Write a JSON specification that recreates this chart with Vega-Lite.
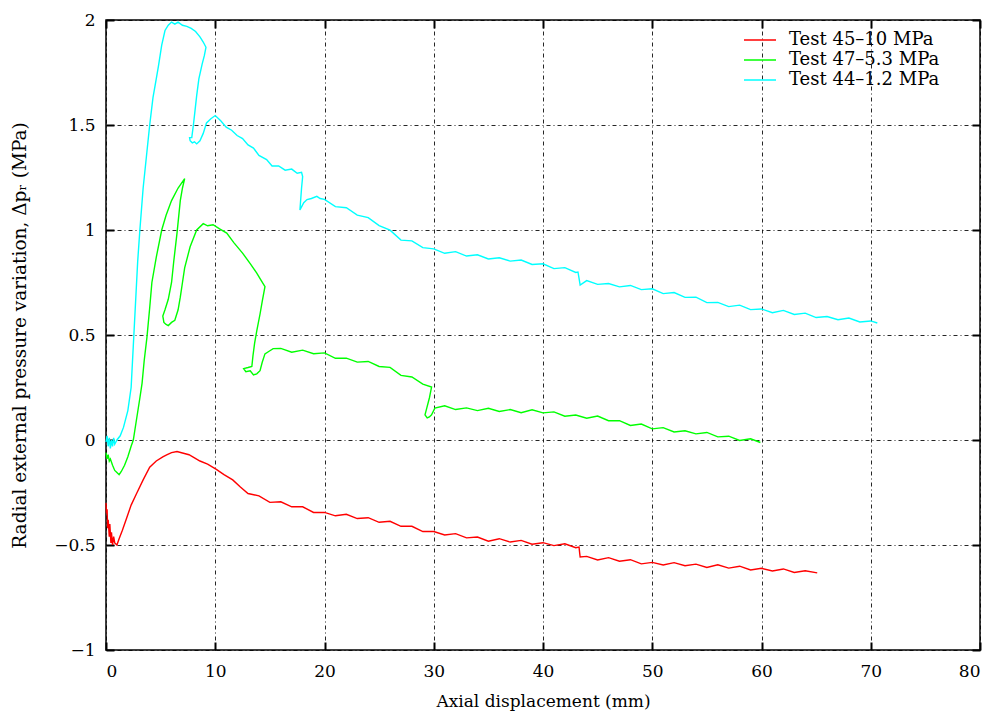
{
  "$schema": "https://vega.github.io/schema/vega-lite/v6.json",
  "width": 874,
  "height": 630,
  "autosize": {"type": "none"},
  "padding": {"left": 106, "top": 20, "right": 18, "bottom": 65},
  "background": "white",
  "config": {
    "view": {"stroke": "black", "strokeWidth": 1.5},
    "font": "DejaVu Serif",
    "axis": {
      "labelFont": "DejaVu Serif", "labelFontSize": 17, "labelColor": "black",
      "titleFont": "DejaVu Serif", "titleFontSize": 17, "titleFontWeight": "normal", "titleColor": "black",
      "domain": false, "tickColor": "black", "tickWidth": 2, "tickSize": -8,
      "gridColor": "black", "gridDash": [4, 3, 1, 3], "gridWidth": 1, "gridOpacity": 0.85
    }
  },
  "data": {"values": [
    {"s":"Test 44–1.2 MPa","i":1,"x":0,"y":-0.01},{"s":"Test 44–1.2 MPa","i":2,"x":0.1,"y":0.02},{"s":"Test 44–1.2 MPa","i":3,"x":0.2,"y":-0.03},{"s":"Test 44–1.2 MPa","i":4,"x":0.3,"y":0.01},{"s":"Test 44–1.2 MPa","i":5,"x":0.4,"y":-0.04},{"s":"Test 44–1.2 MPa","i":6,"x":0.5,"y":0.0},{"s":"Test 44–1.2 MPa","i":7,"x":0.6,"y":-0.03},{"s":"Test 44–1.2 MPa","i":8,"x":0.7,"y":0.01},{"s":"Test 44–1.2 MPa","i":9,"x":0.8,"y":-0.02},{"s":"Test 44–1.2 MPa","i":10,"x":1.0,"y":0.0},
    {"s":"Test 44–1.2 MPa","i":11,"x":1.3,"y":0.02},{"s":"Test 44–1.2 MPa","i":12,"x":1.6,"y":0.06},{"s":"Test 44–1.2 MPa","i":13,"x":2.0,"y":0.14},{"s":"Test 44–1.2 MPa","i":14,"x":2.3,"y":0.25},{"s":"Test 44–1.2 MPa","i":15,"x":2.5,"y":0.45},{"s":"Test 44–1.2 MPa","i":16,"x":2.7,"y":0.65},{"s":"Test 44–1.2 MPa","i":17,"x":2.9,"y":0.85},{"s":"Test 44–1.2 MPa","i":18,"x":3.1,"y":1.0},{"s":"Test 44–1.2 MPa","i":19,"x":3.4,"y":1.2},{"s":"Test 44–1.2 MPa","i":20,"x":3.7,"y":1.35},
    {"s":"Test 44–1.2 MPa","i":21,"x":4.0,"y":1.5},{"s":"Test 44–1.2 MPa","i":22,"x":4.3,"y":1.63},{"s":"Test 44–1.2 MPa","i":23,"x":4.6,"y":1.72},{"s":"Test 44–1.2 MPa","i":24,"x":4.8,"y":1.78},{"s":"Test 44–1.2 MPa","i":25,"x":5.1,"y":1.88},{"s":"Test 44–1.2 MPa","i":26,"x":5.4,"y":1.95},{"s":"Test 44–1.2 MPa","i":27,"x":5.7,"y":1.975},{"s":"Test 44–1.2 MPa","i":28,"x":6.0,"y":1.99},{"s":"Test 44–1.2 MPa","i":29,"x":6.3,"y":1.98},{"s":"Test 44–1.2 MPa","i":30,"x":6.6,"y":1.99},
    {"s":"Test 44–1.2 MPa","i":31,"x":7.0,"y":1.975},{"s":"Test 44–1.2 MPa","i":32,"x":7.4,"y":1.97},{"s":"Test 44–1.2 MPa","i":33,"x":7.8,"y":1.96},{"s":"Test 44–1.2 MPa","i":34,"x":8.2,"y":1.945},{"s":"Test 44–1.2 MPa","i":35,"x":8.6,"y":1.92},{"s":"Test 44–1.2 MPa","i":36,"x":8.9,"y":1.895},{"s":"Test 44–1.2 MPa","i":37,"x":9.15,"y":1.87},{"s":"Test 44–1.2 MPa","i":38,"x":9.0,"y":1.83},{"s":"Test 44–1.2 MPa","i":39,"x":8.8,"y":1.79},{"s":"Test 44–1.2 MPa","i":40,"x":8.5,"y":1.72},
    {"s":"Test 44–1.2 MPa","i":41,"x":8.3,"y":1.64},{"s":"Test 44–1.2 MPa","i":42,"x":8.15,"y":1.57},{"s":"Test 44–1.2 MPa","i":43,"x":8.0,"y":1.5},{"s":"Test 44–1.2 MPa","i":44,"x":7.85,"y":1.44},{"s":"Test 44–1.2 MPa","i":45,"x":7.65,"y":1.44},{"s":"Test 44–1.2 MPa","i":46,"x":7.7,"y":1.425},{"s":"Test 44–1.2 MPa","i":47,"x":7.9,"y":1.415},{"s":"Test 44–1.2 MPa","i":48,"x":8.1,"y":1.42},{"s":"Test 44–1.2 MPa","i":49,"x":8.3,"y":1.41},{"s":"Test 44–1.2 MPa","i":50,"x":8.6,"y":1.425},
    {"s":"Test 44–1.2 MPa","i":51,"x":8.9,"y":1.46},{"s":"Test 44–1.2 MPa","i":52,"x":9.2,"y":1.51},{"s":"Test 44–1.2 MPa","i":53,"x":9.6,"y":1.53},{"s":"Test 44–1.2 MPa","i":54,"x":10.0,"y":1.545},{"s":"Test 44–1.2 MPa","i":55,"x":10.5,"y":1.52},{"s":"Test 44–1.2 MPa","i":56,"x":11.0,"y":1.49},{"s":"Test 44–1.2 MPa","i":57,"x":11.5,"y":1.475},{"s":"Test 44–1.2 MPa","i":58,"x":12.0,"y":1.45},{"s":"Test 44–1.2 MPa","i":59,"x":12.5,"y":1.435},{"s":"Test 44–1.2 MPa","i":60,"x":13.0,"y":1.405},
    {"s":"Test 44–1.2 MPa","i":61,"x":13.5,"y":1.39},{"s":"Test 44–1.2 MPa","i":62,"x":14.0,"y":1.355},{"s":"Test 44–1.2 MPa","i":63,"x":14.7,"y":1.335},{"s":"Test 44–1.2 MPa","i":64,"x":15.2,"y":1.305},{"s":"Test 44–1.2 MPa","i":65,"x":15.8,"y":1.305},{"s":"Test 44–1.2 MPa","i":66,"x":16.4,"y":1.285},{"s":"Test 44–1.2 MPa","i":67,"x":17.0,"y":1.29},{"s":"Test 44–1.2 MPa","i":68,"x":17.5,"y":1.27},{"s":"Test 44–1.2 MPa","i":69,"x":17.9,"y":1.275},{"s":"Test 44–1.2 MPa","i":70,"x":18.0,"y":1.255},
    {"s":"Test 44–1.2 MPa","i":71,"x":17.9,"y":1.2},{"s":"Test 44–1.2 MPa","i":72,"x":17.8,"y":1.13},{"s":"Test 44–1.2 MPa","i":73,"x":17.75,"y":1.095},{"s":"Test 44–1.2 MPa","i":74,"x":17.9,"y":1.11},{"s":"Test 44–1.2 MPa","i":75,"x":18.1,"y":1.13},{"s":"Test 44–1.2 MPa","i":76,"x":18.4,"y":1.145},{"s":"Test 44–1.2 MPa","i":77,"x":18.8,"y":1.15},{"s":"Test 44–1.2 MPa","i":78,"x":19.3,"y":1.16},{"s":"Test 44–1.2 MPa","i":79,"x":19.6,"y":1.15},{"s":"Test 44–1.2 MPa","i":80,"x":20,"y":1.146},
    {"s":"Test 44–1.2 MPa","i":81,"x":21,"y":1.111},{"s":"Test 44–1.2 MPa","i":82,"x":22,"y":1.106},{"s":"Test 44–1.2 MPa","i":83,"x":23,"y":1.071},{"s":"Test 44–1.2 MPa","i":84,"x":24,"y":1.059},{"s":"Test 44–1.2 MPa","i":85,"x":25,"y":1.021},{"s":"Test 44–1.2 MPa","i":86,"x":26,"y":0.999},{"s":"Test 44–1.2 MPa","i":87,"x":27,"y":0.952},{"s":"Test 44–1.2 MPa","i":88,"x":28,"y":0.948},{"s":"Test 44–1.2 MPa","i":89,"x":29,"y":0.916},{"s":"Test 44–1.2 MPa","i":90,"x":30,"y":0.91},
    {"s":"Test 44–1.2 MPa","i":91,"x":31,"y":0.889},{"s":"Test 44–1.2 MPa","i":92,"x":32,"y":0.897},{"s":"Test 44–1.2 MPa","i":93,"x":33,"y":0.876},{"s":"Test 44–1.2 MPa","i":94,"x":34,"y":0.882},{"s":"Test 44–1.2 MPa","i":95,"x":35,"y":0.862},{"s":"Test 44–1.2 MPa","i":96,"x":36,"y":0.868},{"s":"Test 44–1.2 MPa","i":97,"x":37,"y":0.852},{"s":"Test 44–1.2 MPa","i":98,"x":38,"y":0.857},{"s":"Test 44–1.2 MPa","i":99,"x":39,"y":0.836},{"s":"Test 44–1.2 MPa","i":100,"x":40,"y":0.839},
    {"s":"Test 44–1.2 MPa","i":101,"x":41,"y":0.816},{"s":"Test 44–1.2 MPa","i":102,"x":42,"y":0.821},{"s":"Test 44–1.2 MPa","i":103,"x":43,"y":0.798},{"s":"Test 44–1.2 MPa","i":104,"x":43.2,"y":0.8},{"s":"Test 44–1.2 MPa","i":105,"x":43.3,"y":0.77},{"s":"Test 44–1.2 MPa","i":106,"x":43.4,"y":0.738},{"s":"Test 44–1.2 MPa","i":107,"x":44,"y":0.759},{"s":"Test 44–1.2 MPa","i":108,"x":45,"y":0.741},{"s":"Test 44–1.2 MPa","i":109,"x":46,"y":0.745},{"s":"Test 44–1.2 MPa","i":110,"x":47,"y":0.729},
    {"s":"Test 44–1.2 MPa","i":111,"x":48,"y":0.736},{"s":"Test 44–1.2 MPa","i":112,"x":49,"y":0.716},{"s":"Test 44–1.2 MPa","i":113,"x":50,"y":0.72},{"s":"Test 44–1.2 MPa","i":114,"x":51,"y":0.697},{"s":"Test 44–1.2 MPa","i":115,"x":52,"y":0.702},{"s":"Test 44–1.2 MPa","i":116,"x":53,"y":0.679},{"s":"Test 44–1.2 MPa","i":117,"x":54,"y":0.68},{"s":"Test 44–1.2 MPa","i":118,"x":55,"y":0.654},{"s":"Test 44–1.2 MPa","i":119,"x":56,"y":0.655},{"s":"Test 44–1.2 MPa","i":120,"x":57,"y":0.635},
    {"s":"Test 44–1.2 MPa","i":121,"x":58,"y":0.642},{"s":"Test 44–1.2 MPa","i":122,"x":59,"y":0.621},{"s":"Test 44–1.2 MPa","i":123,"x":60,"y":0.624},{"s":"Test 44–1.2 MPa","i":124,"x":61,"y":0.606},{"s":"Test 44–1.2 MPa","i":125,"x":62,"y":0.617},{"s":"Test 44–1.2 MPa","i":126,"x":63,"y":0.598},{"s":"Test 44–1.2 MPa","i":127,"x":64,"y":0.604},{"s":"Test 44–1.2 MPa","i":128,"x":65,"y":0.583},{"s":"Test 44–1.2 MPa","i":129,"x":66,"y":0.588},{"s":"Test 44–1.2 MPa","i":130,"x":67,"y":0.573},
    {"s":"Test 44–1.2 MPa","i":131,"x":68,"y":0.581},{"s":"Test 44–1.2 MPa","i":132,"x":69,"y":0.562},{"s":"Test 44–1.2 MPa","i":133,"x":70,"y":0.567},{"s":"Test 44–1.2 MPa","i":134,"x":70.6,"y":0.557},

    {"s":"Test 47–5.3 MPa","i":1,"x":0,"y":-0.06},{"s":"Test 47–5.3 MPa","i":2,"x":0.1,"y":-0.09},{"s":"Test 47–5.3 MPa","i":3,"x":0.2,"y":-0.07},{"s":"Test 47–5.3 MPa","i":4,"x":0.3,"y":-0.1},{"s":"Test 47–5.3 MPa","i":5,"x":0.4,"y":-0.09},{"s":"Test 47–5.3 MPa","i":6,"x":0.6,"y":-0.12},{"s":"Test 47–5.3 MPa","i":7,"x":0.8,"y":-0.145},{"s":"Test 47–5.3 MPa","i":8,"x":1.0,"y":-0.155},{"s":"Test 47–5.3 MPa","i":9,"x":1.2,"y":-0.165},{"s":"Test 47–5.3 MPa","i":10,"x":1.4,"y":-0.15},
    {"s":"Test 47–5.3 MPa","i":11,"x":1.7,"y":-0.12},{"s":"Test 47–5.3 MPa","i":12,"x":2.0,"y":-0.08},{"s":"Test 47–5.3 MPa","i":13,"x":2.3,"y":-0.03},{"s":"Test 47–5.3 MPa","i":14,"x":2.5,"y":0.0},{"s":"Test 47–5.3 MPa","i":15,"x":2.8,"y":0.1},{"s":"Test 47–5.3 MPa","i":16,"x":3.1,"y":0.2},{"s":"Test 47–5.3 MPa","i":17,"x":3.3,"y":0.27},{"s":"Test 47–5.3 MPa","i":18,"x":3.5,"y":0.38},{"s":"Test 47–5.3 MPa","i":19,"x":3.75,"y":0.49},{"s":"Test 47–5.3 MPa","i":20,"x":4.0,"y":0.63},
    {"s":"Test 47–5.3 MPa","i":21,"x":4.2,"y":0.75},{"s":"Test 47–5.3 MPa","i":22,"x":4.6,"y":0.87},{"s":"Test 47–5.3 MPa","i":23,"x":5.1,"y":1.0},{"s":"Test 47–5.3 MPa","i":24,"x":5.5,"y":1.07},{"s":"Test 47–5.3 MPa","i":25,"x":6.0,"y":1.14},{"s":"Test 47–5.3 MPa","i":26,"x":6.6,"y":1.2},{"s":"Test 47–5.3 MPa","i":27,"x":7.2,"y":1.245},{"s":"Test 47–5.3 MPa","i":28,"x":7.0,"y":1.2},{"s":"Test 47–5.3 MPa","i":29,"x":6.8,"y":1.14},{"s":"Test 47–5.3 MPa","i":30,"x":6.5,"y":0.985},
    {"s":"Test 47–5.3 MPa","i":31,"x":6.2,"y":0.85},{"s":"Test 47–5.3 MPa","i":32,"x":6.0,"y":0.75},{"s":"Test 47–5.3 MPa","i":33,"x":5.7,"y":0.67},{"s":"Test 47–5.3 MPa","i":34,"x":5.4,"y":0.62},{"s":"Test 47–5.3 MPa","i":35,"x":5.2,"y":0.59},{"s":"Test 47–5.3 MPa","i":36,"x":5.3,"y":0.56},{"s":"Test 47–5.3 MPa","i":37,"x":5.5,"y":0.55},{"s":"Test 47–5.3 MPa","i":38,"x":5.7,"y":0.545},{"s":"Test 47–5.3 MPa","i":39,"x":6.0,"y":0.56},{"s":"Test 47–5.3 MPa","i":40,"x":6.3,"y":0.57},
    {"s":"Test 47–5.3 MPa","i":41,"x":6.6,"y":0.62},{"s":"Test 47–5.3 MPa","i":42,"x":6.8,"y":0.68},{"s":"Test 47–5.3 MPa","i":43,"x":7.0,"y":0.75},{"s":"Test 47–5.3 MPa","i":44,"x":7.2,"y":0.82},{"s":"Test 47–5.3 MPa","i":45,"x":7.7,"y":0.92},{"s":"Test 47–5.3 MPa","i":46,"x":8.3,"y":1.0},{"s":"Test 47–5.3 MPa","i":47,"x":8.9,"y":1.03},{"s":"Test 47–5.3 MPa","i":48,"x":9.3,"y":1.02},{"s":"Test 47–5.3 MPa","i":49,"x":9.8,"y":1.025},{"s":"Test 47–5.3 MPa","i":50,"x":10.4,"y":1.005},
    {"s":"Test 47–5.3 MPa","i":51,"x":11.05,"y":0.985},{"s":"Test 47–5.3 MPa","i":52,"x":11.7,"y":0.94},{"s":"Test 47–5.3 MPa","i":53,"x":12.5,"y":0.89},{"s":"Test 47–5.3 MPa","i":54,"x":13.2,"y":0.84},{"s":"Test 47–5.3 MPa","i":55,"x":13.8,"y":0.795},{"s":"Test 47–5.3 MPa","i":56,"x":14.2,"y":0.76},{"s":"Test 47–5.3 MPa","i":57,"x":14.55,"y":0.73},{"s":"Test 47–5.3 MPa","i":58,"x":14.3,"y":0.66},{"s":"Test 47–5.3 MPa","i":59,"x":14.1,"y":0.6},{"s":"Test 47–5.3 MPa","i":60,"x":13.8,"y":0.52},
    {"s":"Test 47–5.3 MPa","i":61,"x":13.6,"y":0.46},{"s":"Test 47–5.3 MPa","i":62,"x":13.45,"y":0.4},{"s":"Test 47–5.3 MPa","i":63,"x":13.35,"y":0.35},{"s":"Test 47–5.3 MPa","i":64,"x":13.0,"y":0.345},{"s":"Test 47–5.3 MPa","i":65,"x":12.6,"y":0.34},{"s":"Test 47–5.3 MPa","i":66,"x":12.8,"y":0.325},{"s":"Test 47–5.3 MPa","i":67,"x":13.2,"y":0.33},{"s":"Test 47–5.3 MPa","i":68,"x":13.5,"y":0.31},{"s":"Test 47–5.3 MPa","i":69,"x":13.8,"y":0.315},{"s":"Test 47–5.3 MPa","i":70,"x":14.1,"y":0.33},
    {"s":"Test 47–5.3 MPa","i":71,"x":14.3,"y":0.37},{"s":"Test 47–5.3 MPa","i":72,"x":14.55,"y":0.41},{"s":"Test 47–5.3 MPa","i":73,"x":15.0,"y":0.425},{"s":"Test 47–5.3 MPa","i":74,"x":15.3,"y":0.435},{"s":"Test 47–5.3 MPa","i":75,"x":16,"y":0.436},{"s":"Test 47–5.3 MPa","i":76,"x":17,"y":0.418},{"s":"Test 47–5.3 MPa","i":77,"x":18,"y":0.428},{"s":"Test 47–5.3 MPa","i":78,"x":19,"y":0.411},{"s":"Test 47–5.3 MPa","i":79,"x":20,"y":0.415},{"s":"Test 47–5.3 MPa","i":80,"x":21,"y":0.389},
    {"s":"Test 47–5.3 MPa","i":81,"x":22,"y":0.39},{"s":"Test 47–5.3 MPa","i":82,"x":23,"y":0.371},{"s":"Test 47–5.3 MPa","i":83,"x":24,"y":0.374},{"s":"Test 47–5.3 MPa","i":84,"x":25,"y":0.35},{"s":"Test 47–5.3 MPa","i":85,"x":26,"y":0.346},{"s":"Test 47–5.3 MPa","i":86,"x":27,"y":0.308},{"s":"Test 47–5.3 MPa","i":87,"x":28,"y":0.3},{"s":"Test 47–5.3 MPa","i":88,"x":29,"y":0.266},{"s":"Test 47–5.3 MPa","i":89,"x":29.8,"y":0.252},{"s":"Test 47–5.3 MPa","i":90,"x":29.6,"y":0.2},
    {"s":"Test 47–5.3 MPa","i":91,"x":29.3,"y":0.14},{"s":"Test 47–5.3 MPa","i":92,"x":29.2,"y":0.12},{"s":"Test 47–5.3 MPa","i":93,"x":29.4,"y":0.105},{"s":"Test 47–5.3 MPa","i":94,"x":29.6,"y":0.11},{"s":"Test 47–5.3 MPa","i":95,"x":29.8,"y":0.12},{"s":"Test 47–5.3 MPa","i":96,"x":30.1,"y":0.152},{"s":"Test 47–5.3 MPa","i":97,"x":31,"y":0.163},{"s":"Test 47–5.3 MPa","i":98,"x":32,"y":0.145},{"s":"Test 47–5.3 MPa","i":99,"x":33,"y":0.153},{"s":"Test 47–5.3 MPa","i":100,"x":34,"y":0.14},
    {"s":"Test 47–5.3 MPa","i":101,"x":35,"y":0.151},{"s":"Test 47–5.3 MPa","i":102,"x":36,"y":0.136},{"s":"Test 47–5.3 MPa","i":103,"x":37,"y":0.145},{"s":"Test 47–5.3 MPa","i":104,"x":38,"y":0.13},{"s":"Test 47–5.3 MPa","i":105,"x":39,"y":0.144},{"s":"Test 47–5.3 MPa","i":106,"x":40,"y":0.129},{"s":"Test 47–5.3 MPa","i":107,"x":41,"y":0.134},{"s":"Test 47–5.3 MPa","i":108,"x":42,"y":0.113},{"s":"Test 47–5.3 MPa","i":109,"x":43,"y":0.119},{"s":"Test 47–5.3 MPa","i":110,"x":44,"y":0.104},
    {"s":"Test 47–5.3 MPa","i":111,"x":45,"y":0.114},{"s":"Test 47–5.3 MPa","i":112,"x":46,"y":0.092},{"s":"Test 47–5.3 MPa","i":113,"x":47,"y":0.092},{"s":"Test 47–5.3 MPa","i":114,"x":48,"y":0.069},{"s":"Test 47–5.3 MPa","i":115,"x":49,"y":0.076},{"s":"Test 47–5.3 MPa","i":116,"x":50,"y":0.053},{"s":"Test 47–5.3 MPa","i":117,"x":51,"y":0.059},{"s":"Test 47–5.3 MPa","i":118,"x":52,"y":0.038},{"s":"Test 47–5.3 MPa","i":119,"x":53,"y":0.044},{"s":"Test 47–5.3 MPa","i":120,"x":54,"y":0.029},
    {"s":"Test 47–5.3 MPa","i":121,"x":55,"y":0.036},{"s":"Test 47–5.3 MPa","i":122,"x":56,"y":0.015},{"s":"Test 47–5.3 MPa","i":123,"x":57,"y":0.018},{"s":"Test 47–5.3 MPa","i":124,"x":58,"y":-0.002},{"s":"Test 47–5.3 MPa","i":125,"x":59,"y":0.006},{"s":"Test 47–5.3 MPa","i":126,"x":59.9,"y":-0.012},

    {"s":"Test 45–10 MPa","i":1,"x":0,"y":-0.3},{"s":"Test 45–10 MPa","i":2,"x":0.05,"y":-0.35},{"s":"Test 45–10 MPa","i":3,"x":0.1,"y":-0.33},{"s":"Test 45–10 MPa","i":4,"x":0.15,"y":-0.42},{"s":"Test 45–10 MPa","i":5,"x":0.2,"y":-0.38},{"s":"Test 45–10 MPa","i":6,"x":0.3,"y":-0.46},{"s":"Test 45–10 MPa","i":7,"x":0.35,"y":-0.4},{"s":"Test 45–10 MPa","i":8,"x":0.45,"y":-0.49},{"s":"Test 45–10 MPa","i":9,"x":0.5,"y":-0.44},{"s":"Test 45–10 MPa","i":10,"x":0.6,"y":-0.5},
    {"s":"Test 45–10 MPa","i":11,"x":0.7,"y":-0.46},{"s":"Test 45–10 MPa","i":12,"x":0.8,"y":-0.49},{"s":"Test 45–10 MPa","i":13,"x":1.0,"y":-0.5},{"s":"Test 45–10 MPa","i":14,"x":1.2,"y":-0.47},{"s":"Test 45–10 MPa","i":15,"x":1.5,"y":-0.43},{"s":"Test 45–10 MPa","i":16,"x":1.9,"y":-0.37},{"s":"Test 45–10 MPa","i":17,"x":2.3,"y":-0.31},{"s":"Test 45–10 MPa","i":18,"x":2.8,"y":-0.255},{"s":"Test 45–10 MPa","i":19,"x":3.4,"y":-0.19},{"s":"Test 45–10 MPa","i":20,"x":4.0,"y":-0.13},
    {"s":"Test 45–10 MPa","i":21,"x":4.6,"y":-0.1},{"s":"Test 45–10 MPa","i":22,"x":5.2,"y":-0.08},{"s":"Test 45–10 MPa","i":23,"x":5.6,"y":-0.07},{"s":"Test 45–10 MPa","i":24,"x":6.0,"y":-0.06},{"s":"Test 45–10 MPa","i":25,"x":6.5,"y":-0.055},{"s":"Test 45–10 MPa","i":26,"x":7.0,"y":-0.062},{"s":"Test 45–10 MPa","i":27,"x":7.6,"y":-0.07},{"s":"Test 45–10 MPa","i":28,"x":8.1,"y":-0.085},{"s":"Test 45–10 MPa","i":29,"x":8.6,"y":-0.1},{"s":"Test 45–10 MPa","i":30,"x":9.3,"y":-0.115},
    {"s":"Test 45–10 MPa","i":31,"x":10.1,"y":-0.14},{"s":"Test 45–10 MPa","i":32,"x":10.8,"y":-0.165},{"s":"Test 45–10 MPa","i":33,"x":11.6,"y":-0.19},{"s":"Test 45–10 MPa","i":34,"x":12.3,"y":-0.224},{"s":"Test 45–10 MPa","i":35,"x":13.0,"y":-0.255},{"s":"Test 45–10 MPa","i":36,"x":14,"y":-0.266},{"s":"Test 45–10 MPa","i":37,"x":15,"y":-0.297},{"s":"Test 45–10 MPa","i":38,"x":16,"y":-0.294},{"s":"Test 45–10 MPa","i":39,"x":17,"y":-0.318},{"s":"Test 45–10 MPa","i":40,"x":18,"y":-0.318},
    {"s":"Test 45–10 MPa","i":41,"x":19,"y":-0.345},{"s":"Test 45–10 MPa","i":42,"x":20,"y":-0.345},{"s":"Test 45–10 MPa","i":43,"x":21,"y":-0.361},{"s":"Test 45–10 MPa","i":44,"x":22,"y":-0.354},{"s":"Test 45–10 MPa","i":45,"x":23,"y":-0.374},{"s":"Test 45–10 MPa","i":46,"x":24,"y":-0.37},{"s":"Test 45–10 MPa","i":47,"x":25,"y":-0.392},{"s":"Test 45–10 MPa","i":48,"x":26,"y":-0.387},{"s":"Test 45–10 MPa","i":49,"x":27,"y":-0.411},{"s":"Test 45–10 MPa","i":50,"x":28,"y":-0.411},
    {"s":"Test 45–10 MPa","i":51,"x":29,"y":-0.436},{"s":"Test 45–10 MPa","i":52,"x":30,"y":-0.436},{"s":"Test 45–10 MPa","i":53,"x":31,"y":-0.452},{"s":"Test 45–10 MPa","i":54,"x":32,"y":-0.446},{"s":"Test 45–10 MPa","i":55,"x":33,"y":-0.466},{"s":"Test 45–10 MPa","i":56,"x":34,"y":-0.462},{"s":"Test 45–10 MPa","i":57,"x":35,"y":-0.482},{"s":"Test 45–10 MPa","i":58,"x":36,"y":-0.47},{"s":"Test 45–10 MPa","i":59,"x":37,"y":-0.486},{"s":"Test 45–10 MPa","i":60,"x":38,"y":-0.478},
    {"s":"Test 45–10 MPa","i":61,"x":39,"y":-0.496},{"s":"Test 45–10 MPa","i":62,"x":40,"y":-0.489},{"s":"Test 45–10 MPa","i":63,"x":41,"y":-0.503},{"s":"Test 45–10 MPa","i":64,"x":42,"y":-0.494},{"s":"Test 45–10 MPa","i":65,"x":43,"y":-0.513},{"s":"Test 45–10 MPa","i":66,"x":43.3,"y":-0.51},{"s":"Test 45–10 MPa","i":67,"x":43.35,"y":-0.535},{"s":"Test 45–10 MPa","i":68,"x":43.4,"y":-0.557},{"s":"Test 45–10 MPa","i":69,"x":44,"y":-0.554},{"s":"Test 45–10 MPa","i":70,"x":45,"y":-0.571},
    {"s":"Test 45–10 MPa","i":71,"x":46,"y":-0.56},{"s":"Test 45–10 MPa","i":72,"x":47,"y":-0.577},{"s":"Test 45–10 MPa","i":73,"x":48,"y":-0.57},{"s":"Test 45–10 MPa","i":74,"x":49,"y":-0.59},{"s":"Test 45–10 MPa","i":75,"x":50,"y":-0.583},{"s":"Test 45–10 MPa","i":76,"x":51,"y":-0.595},{"s":"Test 45–10 MPa","i":77,"x":52,"y":-0.584},{"s":"Test 45–10 MPa","i":78,"x":53,"y":-0.599},{"s":"Test 45–10 MPa","i":79,"x":54,"y":-0.591},{"s":"Test 45–10 MPa","i":80,"x":55,"y":-0.607},
    {"s":"Test 45–10 MPa","i":81,"x":56,"y":-0.594},{"s":"Test 45–10 MPa","i":82,"x":57,"y":-0.61},{"s":"Test 45–10 MPa","i":83,"x":58,"y":-0.601},{"s":"Test 45–10 MPa","i":84,"x":59,"y":-0.619},{"s":"Test 45–10 MPa","i":85,"x":60,"y":-0.611},{"s":"Test 45–10 MPa","i":86,"x":61,"y":-0.624},{"s":"Test 45–10 MPa","i":87,"x":62,"y":-0.614},{"s":"Test 45–10 MPa","i":88,"x":63,"y":-0.631},{"s":"Test 45–10 MPa","i":89,"x":64,"y":-0.623},{"s":"Test 45–10 MPa","i":90,"x":65.1,"y":-0.633}
  ]},
  "layer": [
    {
      "mark": {"type": "line", "strokeWidth": 1.4, "interpolate": "linear"},
      "encoding": {
        "x": {"field": "x", "type": "quantitative", "scale": {"domain": [0, 80], "nice": false, "zero": false},
              "axis": {"values": [0,10,20,30,40,50,60,70,80], "format": "d", "title": "Axial displacement (mm)", "labelPadding": 21, "titlePadding": 14, "grid": true}},
        "y": {"field": "y", "type": "quantitative", "scale": {"domain": [-1, 2], "nice": false, "zero": false},
              "axis": {"values": [-1,-0.5,0,0.5,1,1.5,2], "format": "~g", "title": "Radial external pressure variation, Δpᵣ (MPa)", "titleFontSize": 18.5, "labelPadding": 19, "titlePadding": 24, "grid": true}},
        "color": {"field": "s", "type": "nominal",
                  "scale": {"domain": ["Test 45–10 MPa", "Test 47–5.3 MPa", "Test 44–1.2 MPa"], "range": ["#ff0000", "#00ff00", "#00ffff"]},
                  "legend": {"title": null, "orient": "none", "legendX": 637, "legendY": 10, "padding": 0,
                             "symbolType": "stroke", "symbolSize": 1024, "symbolStrokeWidth": 1.5, "clipHeight": 20, "rowPadding": 0,
                             "labelFont": "DejaVu Serif", "labelFontSize": 18, "labelColor": "black", "labelOffset": 12}},
        "order": {"field": "i", "type": "quantitative"}
      }
    },
    {
      "mark": {"type": "line", "opacity": 0},
      "encoding": {
        "x": {"field": "x", "type": "quantitative", "axis": {"orient": "top", "values": [0,10,20,30,40,50,60,70,80], "labels": false, "title": null, "grid": false}},
        "y": {"field": "y", "type": "quantitative", "axis": {"orient": "right", "values": [-1,-0.5,0,0.5,1,1.5,2], "labels": false, "title": null, "grid": false}},
        "detail": {"field": "s"}
      }
    }
  ],
  "resolve": {"axis": {"x": "independent", "y": "independent"}}
}
